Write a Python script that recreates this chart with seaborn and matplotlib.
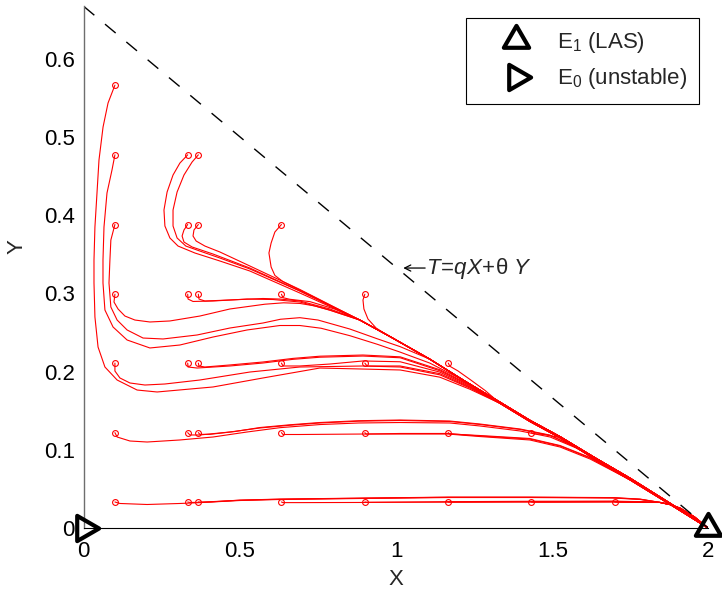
import matplotlib
matplotlib.use("Agg")
import matplotlib.pyplot as plt
import pandas as pd
import seaborn as sns
from matplotlib.lines import Line2D
from matplotlib.path import Path

# ---------------------------------------------------------------------------
# Phase-plane data: trajectories of the (X, Y) system, each starting at an
# open circle and ending at the stable equilibrium E1 = (2, 0).
# ---------------------------------------------------------------------------

# Invariant line T = qX + theta*Y
T_TOTAL, Q, THETA = 2.0, 1.0, 3.0

# Common path along which the upper orbits approach E1
TAIL_X = [0.884, 0.980, 1.108, 1.220, 1.333, 1.428, 1.525, 1.637, 1.749, 1.877, 2.0]
TAIL_Y = [0.266, 0.245, 0.216, 0.188, 0.161, 0.138, 0.117, 0.090, 0.064, 0.032, 0.0]

# Orbits from the middle rows run just beneath it
TAIL_MID_X = [1.333, 1.428, 1.525, 1.637, 1.749, 1.877, 2.0]
TAIL_MID_Y = [0.1595, 0.1365, 0.1155, 0.0885, 0.0628, 0.0310, 0.0]

# ... and those from the Y = 0.122 row a little lower still
TAIL_LOW_X = [1.637, 1.749, 1.877, 2.0]
TAIL_LOW_Y = [0.0875, 0.0618, 0.0305, 0.0]

# Orbits hugging the X axis bend into E1 here
FLOOR_X = [1.845, 1.880, 1.910, 1.955, 2.0]
FLOOR_Y = [0.0330, 0.0300, 0.0255, 0.0145, 0.0]

# Orbits starting at Y = 0.566
ROW566_X = [[0.1, 0.078, 0.062, 0.049, 0.0426, 0.036, 0.033, 0.033, 0.036, 0.046, 0.068,
             0.107, 0.171, 0.235, 0.414, 0.574, 0.756, 0.894, 1.013, 1.140, 1.237]]
ROW566_Y = [[0.566, 0.5432, 0.5125, 0.4704, 0.4282, 0.3848, 0.3427, 0.3133, 0.2699, 0.2315, 0.2060,
             0.1894, 0.1766, 0.1741, 0.1805, 0.1920, 0.2047, 0.2034, 0.2022, 0.1930, 0.1775]]

# Orbits starting at Y = 0.477
ROW477_X = [
    [0.1, 0.0906, 0.0746, 0.065, 0.0618, 0.0618, 0.068, 0.094, 0.139, 0.212, 0.308, 0.414,
     0.523, 0.628, 0.692, 0.760, 0.852, 0.940, 1.013, 1.108],
    [0.333, 0.308, 0.286, 0.267, 0.257, 0.260, 0.276, 0.302, 0.356, 0.436, 0.532, 0.692],
    [0.367, 0.347, 0.321, 0.299, 0.286, 0.286, 0.299, 0.327, 0.372, 0.436, 0.532, 0.692],
]
ROW477_Y = [
    [0.477, 0.4576, 0.4282, 0.3848, 0.3427, 0.3133, 0.2788, 0.2571, 0.2405, 0.2303, 0.2341, 0.2443,
     0.2533, 0.2590, 0.2590, 0.2555, 0.2460, 0.2350, 0.2250, 0.2110],
    [0.477, 0.4665, 0.4512, 0.4295, 0.4065, 0.3861, 0.3708, 0.3605, 0.3516, 0.3414, 0.3286, 0.3005],
    [0.477, 0.4678, 0.4512, 0.4295, 0.4065, 0.3861, 0.3708, 0.3605, 0.3541, 0.3452, 0.3312, 0.3031],
]

# Orbits starting at Y = 0.388
ROW388_X = [
    [0.1, 0.087, 0.084, 0.081, 0.087, 0.107, 0.139, 0.190, 0.254, 0.363, 0.468, 0.574, 0.630,
     0.692, 0.750, 0.852, 0.940, 1.013],
    [0.333, 0.321, 0.315, 0.321, 0.347, 0.414, 0.532, 0.692],
    [0.367, 0.353, 0.350, 0.360, 0.388, 0.436, 0.532, 0.692],
    [0.633, 0.612, 0.600, 0.593, 0.600, 0.612, 0.638, 0.683, 0.734, 0.798],
]
ROW388_Y = [
    [0.388, 0.3682, 0.3427, 0.3133, 0.2826, 0.2660, 0.2533, 0.2430, 0.2418, 0.2469, 0.2558, 0.2622,
     0.2670, 0.2690, 0.2660, 0.2545, 0.2420, 0.2320],
    [0.388, 0.381, 0.3733, 0.3656, 0.3593, 0.3503, 0.3324, 0.3031],
    [0.388, 0.381, 0.3733, 0.3669, 0.3605, 0.3529, 0.3350, 0.3050],
    [0.388, 0.3784, 0.3644, 0.3516, 0.3337, 0.3230, 0.3150, 0.3060, 0.2960, 0.2830],
]

# Orbits starting at Y = 0.299
ROW299_X = [
    [0.1, 0.097, 0.110, 0.132, 0.164, 0.212, 0.276, 0.372, 0.468, 0.580, 0.640, 0.692, 0.740, 0.788],
    [0.333, 0.334, 0.350, 0.414, 0.523, 0.606, 0.692, 0.788],
    [0.367, 0.369, 0.388, 0.468, 0.574, 0.628, 0.692, 0.788],
    [0.633, 0.638, 0.660, 0.724, 0.804],
    [0.9, 0.894, 0.897, 0.910, 0.936, 0.971],
]
ROW299_Y = [
    [0.299, 0.2890, 0.2801, 0.2711, 0.2660, 0.2635, 0.2648, 0.2711, 0.2801, 0.2862, 0.2880, 0.2872,
     0.2840, 0.2785],
    [0.299, 0.2928, 0.2897, 0.2903, 0.2928, 0.2922, 0.2890, 0.2788],
    [0.299, 0.2928, 0.2903, 0.2916, 0.2935, 0.2928, 0.2903, 0.2801],
    [0.299, 0.2945, 0.2925, 0.2895, 0.2800],
    [0.299, 0.2916, 0.2801, 0.2673, 0.2558, 0.2469],
]

# Orbits starting at Y = 0.211
ROW211_X = [
    [0.1, 0.100, 0.116, 0.148, 0.196, 0.260, 0.372, 0.532, 0.692, 0.894, 1.013, 1.140, 1.237],
    [0.333, 0.334, 0.363, 0.468, 0.574, 0.670, 0.756, 0.894, 1.013, 1.140, 1.237],
    [0.367, 0.369, 0.388, 0.468, 0.574, 0.670, 0.756, 0.894, 1.013, 1.140, 1.237],
    [0.633, 0.638, 0.692, 0.788, 0.894, 1.013, 1.140, 1.237],
    [0.9, 0.907, 1.013, 1.140, 1.237],
    [1.167, 1.172, 1.198, 1.237, 1.285],
]
ROW211_Y = [
    [0.211, 0.2009, 0.1920, 0.1856, 0.1830, 0.1843, 0.1894, 0.1996, 0.2060, 0.2073, 0.2060, 0.1960, 0.1790],
    [0.211, 0.2060, 0.2047, 0.2073, 0.2111, 0.2158, 0.2185, 0.2200, 0.2178, 0.2012, 0.1822],
    [0.211, 0.2073, 0.2060, 0.2086, 0.2124, 0.2170, 0.2198, 0.2213, 0.2190, 0.2025, 0.1830],
    [0.211, 0.2073, 0.2073, 0.2098, 0.2137, 0.2127, 0.1995, 0.1810],
    [0.211, 0.2073, 0.2073, 0.1975, 0.1800],
    [0.211, 0.2070, 0.2010, 0.1900, 0.1760],
]

# Orbits starting at Y = 0.122
ROW122_X = [
    [0.1, 0.107, 0.148, 0.203, 0.308, 0.414, 0.523, 0.628, 0.756, 0.880, 1.013, 1.172, 1.268,
     1.397, 1.493, 1.589],
    [0.333, 0.340, 0.372, 0.468, 0.564, 0.660, 0.756, 0.880, 1.013, 1.172, 1.268, 1.397, 1.493, 1.589],
    [0.367, 0.372, 0.404, 0.484, 0.564, 0.660, 0.756, 0.880, 1.013, 1.172, 1.268, 1.397, 1.493, 1.589],
    [0.633, 0.638, 0.692, 0.894, 1.013, 1.166, 1.268, 1.428, 1.525, 1.621],
    [0.9, 0.904, 1.013, 1.166, 1.268, 1.428, 1.525, 1.621],
    [1.167, 1.172, 1.268, 1.428, 1.525, 1.621],
    [1.433, 1.438, 1.477, 1.525, 1.589],
]
ROW122_Y = [
    [0.1222, 0.1166, 0.1115, 0.1102, 0.1128, 0.1166, 0.1230, 0.1285, 0.1325, 0.1345, 0.1351, 0.1345,
     0.1307, 0.1243, 0.1166, 0.1005],
    [0.1222, 0.1192, 0.1192, 0.1230, 0.1281, 0.1316, 0.1345, 0.1368, 0.1377, 0.1364, 0.1326, 0.1262,
     0.1185, 0.1010],
    [0.1222, 0.1200, 0.1200, 0.1236, 0.1287, 0.1322, 0.1351, 0.1374, 0.1383, 0.1370, 0.1332, 0.1268,
     0.1190, 0.1012],
    [0.1222, 0.1198, 0.1198, 0.1204, 0.1204, 0.1204, 0.1172, 0.1128, 0.1038, 0.0885],
    [0.1222, 0.1204, 0.1211, 0.1211, 0.1179, 0.1140, 0.1051, 0.0898],
    [0.1222, 0.1204, 0.1185, 0.1147, 0.1057, 0.0904],
    [0.1222, 0.1210, 0.1195, 0.1160, 0.1015],
]

# Orbits starting at Y = 0.0335 (these run into FLOOR)
ROW033_X = [
    [0.1, 0.116, 0.203, 0.308, 0.363, 0.500, 0.628, 0.894, 1.166, 1.428, 1.694, 1.781],
    [0.333, 0.340, 0.363, 0.500, 0.628, 0.894, 1.166, 1.428, 1.694, 1.781],
    [0.367, 0.372, 0.404, 0.500, 0.628, 0.894, 1.166, 1.428, 1.694, 1.781],
    [0.633, 0.638, 0.692, 0.894, 1.166, 1.428, 1.694, 1.781],
    [0.9, 0.907, 1.166, 1.428, 1.694, 1.781],
    [1.167, 1.172, 1.428, 1.694, 1.781],
    [1.433, 1.438, 1.694, 1.781],
    [1.7, 1.707, 1.781],
]
ROW033_Y = [
    [0.0336, 0.0317, 0.0304, 0.0317, 0.0326, 0.0355, 0.0368, 0.0381, 0.0393, 0.0393, 0.0387, 0.0368],
    [0.0336, 0.0330, 0.0331, 0.0358, 0.0371, 0.0384, 0.0396, 0.0396, 0.0390, 0.0371],
    [0.0336, 0.0333, 0.0336, 0.0360, 0.0373, 0.0386, 0.0398, 0.0398, 0.0392, 0.0373],
    [0.0336, 0.0328, 0.0328, 0.0330, 0.0340, 0.0345, 0.0347, 0.0340],
    [0.0336, 0.0332, 0.0334, 0.0340, 0.0343, 0.0338],
    [0.0336, 0.0333, 0.0335, 0.0340, 0.0336],
    [0.0336, 0.0333, 0.0335, 0.0333],
    [0.0336, 0.0333, 0.0330],
]

X_TICKS = [0, 0.5, 1, 1.5, 2]
X_TICK_LABELS = ["0", "0.5", "1", "1.5", "2"]
Y_TICKS = [0, 0.1, 0.2, 0.3, 0.4, 0.5, 0.6]
Y_TICK_LABELS = ["0", "0.1", "0.2", "0.3", "0.4", "0.5", "0.6"]

E1 = (2.0, 0.0)
E0 = (0.0, 0.0)
LEGEND_LABELS = [r"E$_1$ (LAS)", r"E$_0$ (unstable)"]


def join_tail(xs, ys, tx, ty):
    """Continue an orbit along a shared approach path beyond its last point."""
    keep = [i for i, t in enumerate(tx) if t > xs[-1] + 0.02]
    return list(xs) + [tx[i] for i in keep], list(ys) + [ty[i] for i in keep]


records = []
groups = [
    (ROW566_X, ROW566_Y, TAIL_MID_X, TAIL_MID_Y),
    (ROW477_X, ROW477_Y, TAIL_X, TAIL_Y),
    (ROW388_X, ROW388_Y, TAIL_X, TAIL_Y),
    (ROW299_X, ROW299_Y, TAIL_X, TAIL_Y),
    (ROW211_X, ROW211_Y, TAIL_MID_X, TAIL_MID_Y),
    (ROW122_X, ROW122_Y, TAIL_LOW_X, TAIL_LOW_Y),
    (ROW033_X, ROW033_Y, FLOOR_X, FLOOR_Y),
]
start_x, start_y = [], []
k = 0
for gx, gy, tx, ty in groups:
    for xs, ys in zip(gx, gy):
        fx, fy = join_tail(xs, ys, tx, ty)
        start_x.append(xs[0])
        start_y.append(ys[0])
        for j, (a, b) in enumerate(zip(fx, fy)):
            records.append({"orbit": k, "step": j, "X": a, "Y": b})
        k += 1
orbits = pd.DataFrame(records)

# Triangle markers centred on their centroid
TRI_UP = Path([(0, 1.155), (-1, -0.577), (1, -0.577), (0, 1.155)], closed=True)
TRI_RIGHT = Path([(1.155, 0), (-0.577, 1), (-0.577, -1), (1.155, 0)], closed=True)
EQ_STYLE = dict(ls="none", ms=21, mfc="none", mec="black", mew=3)

# ---------------------------------------------------------------------------
sns.set_theme(style="white")
plt.rcParams["font.family"] = ["Liberation Sans", "DejaVu Sans"]
plt.rcParams["mathtext.fontset"] = "custom"
plt.rcParams["mathtext.rm"] = "Liberation Sans"
plt.rcParams["mathtext.it"] = "Liberation Sans:italic"
plt.rcParams["mathtext.fallback"] = "cm"

fig, ax = plt.subplots(figsize=(7.22, 5.91), dpi=100)
fig.subplots_adjust(left=0.1159, right=0.9813, bottom=0.1061, top=0.9893)

sns.lineplot(data=orbits, x="X", y="Y", units="orbit", estimator=None, sort=False,
             color="#ff0000", linewidth=0.8, ax=ax, legend=False)
ax.plot(start_x, start_y, ls="none", marker="o", ms=4.2, mfc="none", mec="#ff0000", mew=0.8)

# invariant line T = qX + theta Y
ax.plot([0, T_TOTAL / Q], [T_TOTAL / THETA, 0], color="black", lw=1.0, dashes=(10, 10))
ax.annotate("", xy=(1.023, 0.3324), xytext=(1.093, 0.3324),
            arrowprops=dict(arrowstyle="->", lw=0.9, color="black", shrinkA=0, shrinkB=0,
                            mutation_scale=11))
ax.text(1.097, 0.3324, r"$T\!=\!qX\!+\!\mathrm{\theta}\ Y$", fontsize=16,
        ha="left", va="center")

ax.plot(*E1, marker=TRI_UP, clip_on=False, zorder=6, **EQ_STYLE)
ax.plot(*E0, marker=TRI_RIGHT, clip_on=False, zorder=6, **EQ_STYLE)

ax.set_xlim(0, 2)
ax.set_ylim(0, T_TOTAL / THETA)
ax.set_xticks(X_TICKS, X_TICK_LABELS)
ax.set_yticks(Y_TICKS, Y_TICK_LABELS)
ax.tick_params(direction="in", length=5, width=0.8, labelsize=16, colors="black")
ax.tick_params(axis="x", pad=9.5)
ax.tick_params(axis="y", pad=6.3)
for side in ("top", "right"):
    ax.spines[side].set_visible(False)
ax.spines["bottom"].set_color("black")
ax.spines["bottom"].set_linewidth(0.8)
ax.spines["left"].set_color("#6e6e6e")
ax.spines["left"].set_linewidth(1.0)
ax.set_xlabel("X", fontsize=16, labelpad=5)
ax.set_ylabel("Y", fontsize=16)
ax.yaxis.set_label_coords(-0.090, 0.539)

h1 = Line2D([], [], marker=TRI_UP, **EQ_STYLE)
h0 = Line2D([], [], marker=TRI_RIGHT, **EQ_STYLE)
leg = ax.legend([h1, h0], LEGEND_LABELS, loc="upper right",
                bbox_to_anchor=(0.985, 0.9776), borderaxespad=0, fontsize=16, frameon=True,
                fancybox=False, edgecolor="black", framealpha=1, handlelength=3.4,
                handletextpad=0.15, borderpad=0.55, labelspacing=0.5)
leg.get_frame().set_linewidth(0.8)

fig.savefig("out.png", dpi=100)
